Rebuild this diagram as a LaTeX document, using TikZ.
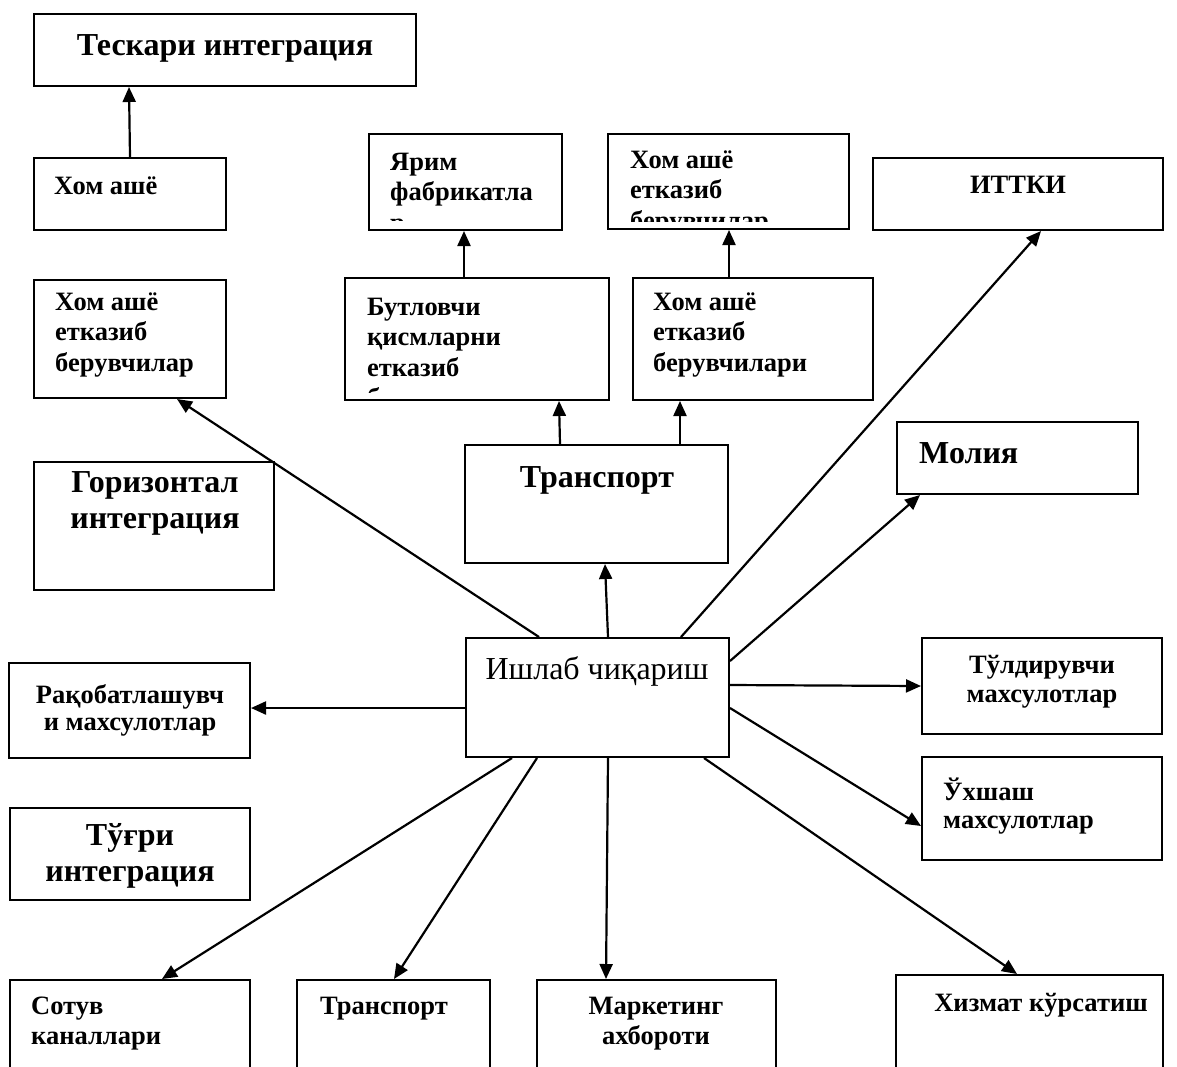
\documentclass[tikz,border=0pt]{standalone}
\usepackage{fontspec}
\setmainfont{Liberation Serif}
\usetikzlibrary{arrows.meta,fit}
\newcommand\fsA{\fontsize{26.5}{30.5}\selectfont\bfseries}
\newcommand\fsB{\fontsize{32}{36}\selectfont\bfseries}
\newcommand\fsR{\fontsize{32}{37}\selectfont}
\newcommand\lft[1]{\begin{tabular}[t]{@{}l@{}}#1\end{tabular}}
\newcommand\ctr[1]{\begin{tabular}[t]{@{}c@{}}#1\end{tabular}}
\begin{document}
\begin{tikzpicture}[x=1pt,y=-1pt,
  box/.style={draw,line width=2pt,inner sep=0pt},
  txt/.style={inner sep=0pt,anchor=base west},
  ctxt/.style={inner sep=0pt,anchor=base},
  arr/.style={line width=2.2pt,-{Triangle[length=15pt,width=13pt]}}]
\useasboundingbox (0,0) rectangle (1177,1066);
% boxes
\node[box,fit={(34,14) (416,86)}] (teskari) {};
\node[box,fit={(34,158) (226,230)}] (homashe) {};
\node[box,fit={(369,134) (562,230)}] (yarim) {};
\node[box,fit={(608,134) (849,229)}] (homashe2) {};
\node[box,fit={(873,158) (1163,230)}] (ittki) {};
\node[box,fit={(34,280) (226,398)}] (homashe3) {};
\node[box,fit={(345,278) (609,400)}] (butlov) {};
\node[box,fit={(633,278) (873,400)}] (homashe4) {};
\node[box,fit={(465,445) (728,563)}] (transm) {};
\node[box,fit={(897,422) (1138,494)}] (moliya) {};
\node[box,fit={(34,462) (274,590)}] (goriz) {};
\node[box,fit={(466,638) (729,757)}] (ishlab) {};
\node[box,fit={(9,663) (250,758)}] (raqobat) {};
\node[box,fit={(922,638) (1162,734)}] (tuldir) {};
\node[box,fit={(922,757) (1162,860)}] (ukhshash) {};
\node[box,fit={(10,808) (250,900)}] (tugri) {};
\node[box,fit={(10,980) (250,1090)}] (sotuv) {};
\node[box,fit={(297,980) (490,1090)}] (transb) {};
\node[box,fit={(537,980) (776,1090)}] (market) {};
\node[box,fit={(896,975) (1163,1090)}] (khizmat) {};
% texts
\node[ctxt] (tTeskari) at (225,55) {\fsB Тескари интеграция};
\node[txt] (tHomashe) at (54,194) {\fsA Хом ашё};
\begin{scope}
\clip (369,134) rectangle (562,220);
\node[txt] (tYarim) at (390,170) {\fsA\lft{Ярим\\фабрикатла\\р}};
\end{scope}
\begin{scope}
\clip (608,134) rectangle (849,221);
\node[txt] (tHomashe2) at (630,168) {\fsA\lft{Хом ашё\\етказиб\\берувчилар}};
\end{scope}
\node[ctxt] (tIttki) at (1018,193) {\fsA ИТТКИ};
\node[txt] (tHomashe3) at (55,310) {\fsA\lft{Хом ашё\\етказиб\\берувчилар}};
\begin{scope}
\clip (345,278) rectangle (609,392);
\node[txt] (tButlov) at (367,315) {\fsA\lft{Бутловчи\\қисмларни\\етказиб\\берувчилар}};
\end{scope}
\node[txt] (tHomashe4) at (653,310) {\fsA\lft{Хом ашё\\етказиб\\берувчилари}};
\node[ctxt] (tTransm) at (597,487) {\fsB Транспорт};
\node[txt] (tMoliya) at (919,463) {\fsB Молия};
\node[ctxt] (tGoriz) at (155,492) {\fsB\ctr{Горизонтал\\интеграция}};
\node[ctxt] (tIshlab) at (597,679) {\fsR Ишлаб чиқариш};
\node[ctxt] (tRaqobat) at (130,703) {\fontsize{26.5}{27.5}\selectfont\bfseries\ctr{Рақобатлашувч\\и махсулотлар}};
\node[ctxt] (tTuldir) at (1042,673) {\fontsize{26.5}{29}\selectfont\bfseries\ctr{Тўлдирувчи\\махсулотлар}};
\node[txt] (tUkhshash) at (943,800) {\fontsize{26.5}{28}\selectfont\bfseries\lft{Ўхшаш\\махсулотлар}};
\node[ctxt] (tTugri) at (130,845) {\fsB\ctr{Тўғри\\интеграция}};
\node[txt] (tSotuv) at (31,1014) {\fsA\lft{Сотув\\каналлари}};
\node[txt] (tTransb) at (320,1014) {\fsA Транспорт};
\node[ctxt] (tMarket) at (656,1014) {\fsA\ctr{Маркетинг\\ахбороти}};
\node[ctxt] (tKhizmat) at (1041,1011) {\fsA Хизмат кўрсатиш};
% connectors
\draw[arr] (homashe.north) -- ([xshift=96pt]teskari.south west);
\draw[arr] ([xshift=120pt]butlov.north west) -- ([xshift=96pt]yarim.south west);
\draw[arr] ([xshift=97pt]homashe4.north west) -- ([xshift=122pt]homashe2.south west);
\draw[arr] ([xshift=96pt]transm.north west) -- ([xshift=215pt]butlov.south west);
\draw[arr] ([xshift=216pt]transm.north west) -- ([xshift=48pt]homashe4.south west);
\draw[arr] ([xshift=74pt]ishlab.north west) -- ([xshift=144pt]homashe3.south west);
\draw[arr] ([xshift=143pt]ishlab.north west) -- ([xshift=141pt]transm.south west);
\draw[arr] ([xshift=216pt]ishlab.north west) -- ([xshift=169pt]ittki.south west);
\draw[arr] ([yshift=-24pt]ishlab.north east) -- ([xshift=24pt]moliya.south west);
\draw[arr] ([yshift=-48pt]ishlab.north east) -- (tuldir.west);
\draw[arr] ([yshift=-71pt]ishlab.north east) -- ([yshift=-70pt]ukhshash.north west);
\draw[arr] ([yshift=-71pt]ishlab.north west) -- ([yshift=-46pt]raqobat.north east);
\draw[arr] ([xshift=47pt]ishlab.south west) -- ([xshift=153pt]sotuv.north west);
\draw[arr] ([xshift=72pt]ishlab.south west) -- ([xshift=98pt]transb.north west);
\draw[arr] ([xshift=143pt]ishlab.south west) -- ([xshift=70pt]market.north west);
\draw[arr] ([xshift=239pt]ishlab.south west) -- ([xshift=122pt]khizmat.north west);
\end{tikzpicture}
\end{document}
